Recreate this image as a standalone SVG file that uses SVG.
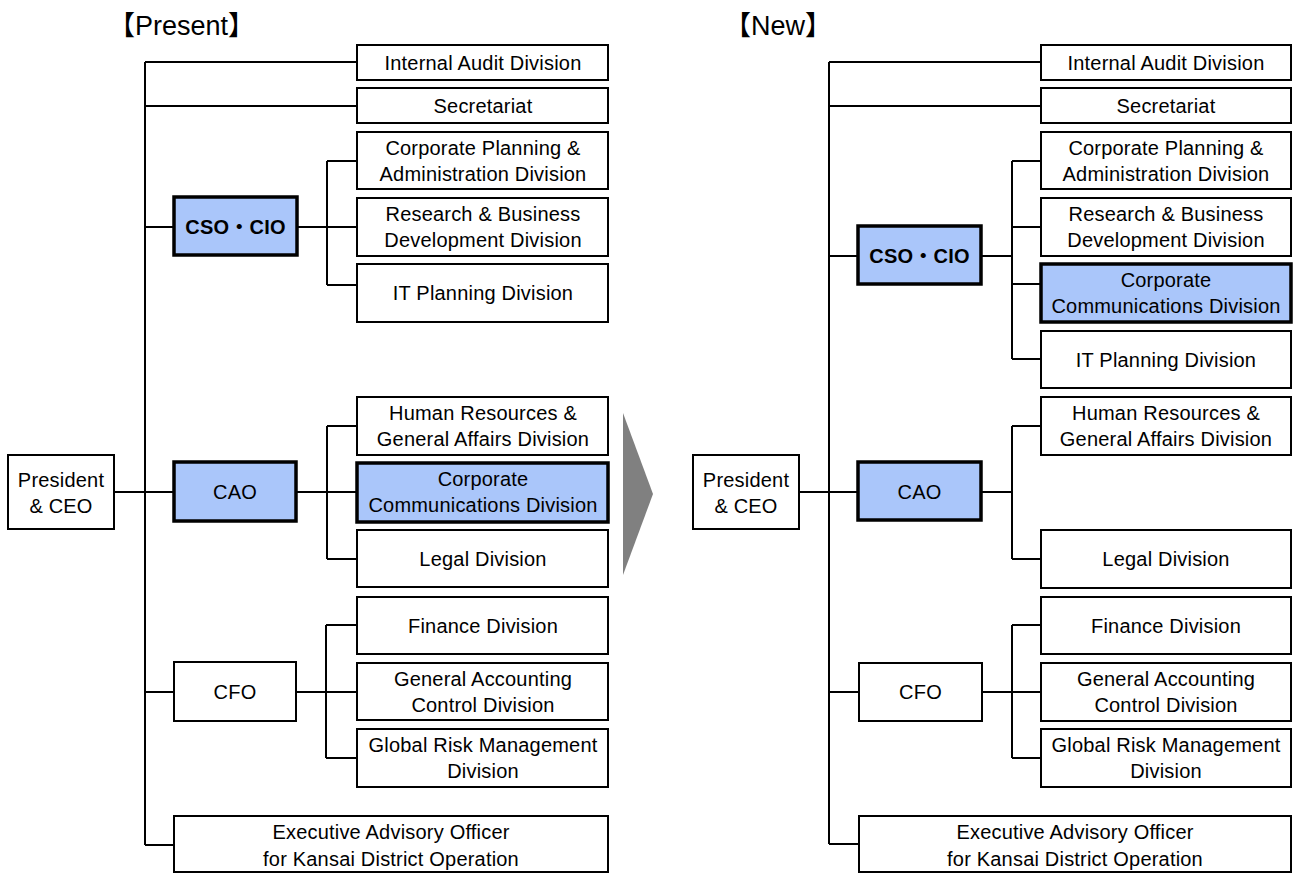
<svg xmlns="http://www.w3.org/2000/svg" width="1293" height="873" viewBox="0 0 1293 873">
<style>
  .bx{fill:#fff;stroke:#000;stroke-width:2}
  .bl{fill:#aac6fa;stroke:#000;stroke-width:3.5}
  .t{font-family:"Liberation Sans","Noto Sans CJK JP",sans-serif;font-size:20px;fill:#000;text-anchor:middle;letter-spacing:0.2px}
  .b{font-weight:bold}
  .ttl{font-family:"Liberation Sans","Noto Sans CJK JP",sans-serif;font-size:27px;fill:#000}
  .ln{fill:none;stroke:#000;stroke-width:2}
</style>
<rect width="1293" height="873" fill="#fff"/>
<text class="ttl" x="108" y="35">【Present】</text>
<text class="ttl" x="724" y="35">【New】</text>
<polygon id="arrow" points="623,413 653,494 623,575" fill="#808080"/>
<g id="connectors">
  <!-- Present -->
  <path class="ln" d="M145,62V845 M145,62H357 M145,106H357 M145,227H174 M114,492H174 M145,692H174 M145,845H174"/>
  <path class="ln" d="M297,227H327 M327,161V285 M327,161H357 M327,227H357 M327,285H357"/>
  <path class="ln" d="M296,492H327 M327,426V559 M327,426H357 M327,492H357 M327,559H357"/>
  <path class="ln" d="M296,692H326 M326,625V758 M326,625H357 M326,692H357 M326,758H357"/>
  <!-- New -->
  <path class="ln" d="M829,62V844 M829,62H1041 M829,106H1041 M829,256H858 M799,492H858 M829,692H859 M829,844H859"/>
  <path class="ln" d="M981,256H1012 M1012,161V359 M1012,161H1041 M1012,227H1041 M1012,284H1041 M1012,359H1041"/>
  <path class="ln" d="M981,492H1012 M1012,426V559 M1012,426H1041 M1012,559H1041"/>
  <path class="ln" d="M982,692H1012 M1012,625V758 M1012,625H1041 M1012,692H1041 M1012,758H1041"/>
</g>
<!-- Present nodes -->
<g id="p-president"><rect class="bx" x="8" y="455" width="106" height="74"/><text class="t" x="61" y="487">President</text><text class="t" x="61" y="513">&amp; CEO</text></g>
<g id="p-audit"><rect class="bx" x="357" y="45" width="251" height="35"/><text class="t" x="483" y="70">Internal Audit Division</text></g>
<g id="p-secretariat"><rect class="bx" x="357" y="88" width="251" height="35"/><text class="t" x="483" y="113">Secretariat</text></g>
<g id="p-corpplan"><rect class="bx" x="357" y="132" width="251" height="57"/><text class="t" x="483" y="155">Corporate Planning &amp;</text><text class="t" x="483" y="181">Administration Division</text></g>
<g id="p-research"><rect class="bx" x="357" y="198" width="251" height="58"/><text class="t" x="483" y="221">Research &amp; Business</text><text class="t" x="483" y="247">Development Division</text></g>
<g id="p-it"><rect class="bx" x="357" y="264" width="251" height="58"/><text class="t" x="483" y="300">IT Planning Division</text></g>
<g id="p-csocio"><rect class="bl" x="174" y="197" width="123" height="58"/><text class="t b" x="235.5" y="234">CSO・CIO</text></g>
<g id="p-hr"><rect class="bx" x="357" y="397" width="251" height="58"/><text class="t" x="483" y="420">Human Resources &amp;</text><text class="t" x="483" y="446">General Affairs Division</text></g>
<g id="p-corpcomm"><rect class="bl" x="357" y="463" width="251" height="59"/><text class="t" x="483" y="486">Corporate</text><text class="t" x="483" y="512">Communications Division</text></g>
<g id="p-legal"><rect class="bx" x="357" y="530" width="251" height="57"/><text class="t" x="483" y="566">Legal Division</text></g>
<g id="p-cao"><rect class="bl" x="174" y="462" width="122" height="59"/><text class="t" x="235" y="499">CAO</text></g>
<g id="p-finance"><rect class="bx" x="357" y="597" width="251" height="57"/><text class="t" x="483" y="633">Finance Division</text></g>
<g id="p-gac"><rect class="bx" x="357" y="663" width="251" height="57"/><text class="t" x="483" y="686">General Accounting</text><text class="t" x="483" y="712">Control Division</text></g>
<g id="p-risk"><rect class="bx" x="357" y="729" width="251" height="58"/><text class="t" x="483" y="752">Global Risk Management</text><text class="t" x="483" y="778">Division</text></g>
<g id="p-cfo"><rect class="bx" x="174" y="662" width="122" height="59"/><text class="t" x="235" y="699">CFO</text></g>
<g id="p-exec"><rect class="bx" x="174" y="816" width="434" height="56"/><text class="t" x="391" y="839">Executive Advisory Officer</text><text class="t" x="391" y="866">for Kansai District Operation</text></g>
<!-- New nodes -->
<g id="n-president"><rect class="bx" x="693" y="455" width="106" height="74"/><text class="t" x="746" y="487">President</text><text class="t" x="746" y="513">&amp; CEO</text></g>
<g id="n-audit"><rect class="bx" x="1041" y="45" width="250" height="35"/><text class="t" x="1166" y="70">Internal Audit Division</text></g>
<g id="n-secretariat"><rect class="bx" x="1041" y="88" width="250" height="35"/><text class="t" x="1166" y="113">Secretariat</text></g>
<g id="n-corpplan"><rect class="bx" x="1041" y="132" width="250" height="57"/><text class="t" x="1166" y="155">Corporate Planning &amp;</text><text class="t" x="1166" y="181">Administration Division</text></g>
<g id="n-research"><rect class="bx" x="1041" y="198" width="250" height="58"/><text class="t" x="1166" y="221">Research &amp; Business</text><text class="t" x="1166" y="247">Development Division</text></g>
<g id="n-corpcomm"><rect class="bl" x="1041" y="264" width="250" height="58"/><text class="t" x="1166" y="287">Corporate</text><text class="t" x="1166" y="313">Communications Division</text></g>
<g id="n-it"><rect class="bx" x="1041" y="331" width="250" height="57"/><text class="t" x="1166" y="367">IT Planning Division</text></g>
<g id="n-csocio"><rect class="bl" x="858" y="226" width="123" height="58"/><text class="t b" x="919.5" y="263">CSO・CIO</text></g>
<g id="n-hr"><rect class="bx" x="1041" y="397" width="250" height="58"/><text class="t" x="1166" y="420">Human Resources &amp;</text><text class="t" x="1166" y="446">General Affairs Division</text></g>
<g id="n-legal"><rect class="bx" x="1041" y="530" width="250" height="58"/><text class="t" x="1166" y="566">Legal Division</text></g>
<g id="n-cao"><rect class="bl" x="858" y="462" width="123" height="58"/><text class="t" x="919.5" y="499">CAO</text></g>
<g id="n-finance"><rect class="bx" x="1041" y="597" width="250" height="57"/><text class="t" x="1166" y="633">Finance Division</text></g>
<g id="n-gac"><rect class="bx" x="1041" y="663" width="250" height="58"/><text class="t" x="1166" y="686">General Accounting</text><text class="t" x="1166" y="712">Control Division</text></g>
<g id="n-risk"><rect class="bx" x="1041" y="729" width="250" height="58"/><text class="t" x="1166" y="752">Global Risk Management</text><text class="t" x="1166" y="778">Division</text></g>
<g id="n-cfo"><rect class="bx" x="859" y="663" width="123" height="58"/><text class="t" x="920.5" y="699">CFO</text></g>
<g id="n-exec"><rect class="bx" x="859" y="816" width="432" height="56"/><text class="t" x="1075" y="839">Executive Advisory Officer</text><text class="t" x="1075" y="866">for Kansai District Operation</text></g>
</svg>
